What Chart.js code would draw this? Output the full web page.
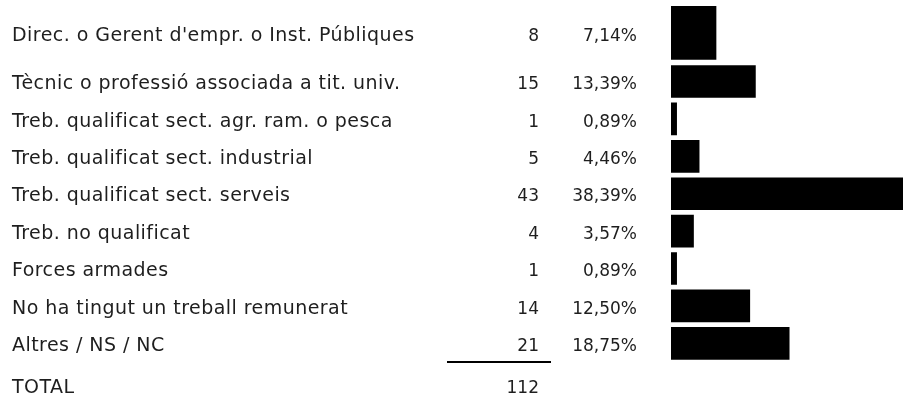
<!DOCTYPE html>
<html>
<head>
<meta charset="utf-8">
<script src="https://cdn.jsdelivr.net/npm/chart.js@4/dist/chart.umd.min.js"></script>
<style>
  html, body { margin: 0; padding: 0; background: #fff; overflow: hidden; }
  #wrap { width: 903px; height: 394px; overflow: hidden; }
  canvas { display: block; }
</style>
</head>
<body>
<div id="wrap"><canvas id="ocupacio" width="913" height="394"></canvas></div>
<script>
// categories, counts and shares of the table
const categories = [
    "Direc. o Gerent d'empr. o Inst. Públiques",
    'Tècnic o professió associada a tit. univ.',
    'Treb. qualificat sect. agr. ram. o pesca',
    'Treb. qualificat sect. industrial',
    'Treb. qualificat sect. serveis',
    'Treb. no qualificat',
    'Forces armades',
    'No ha tingut un treball remunerat',
    'Altres / NS / NC'
];
const counts = [8, 15, 1, 5, 43, 4, 1, 14, 21];
const percents = [7.14, 13.39, 0.89, 4.46, 38.39, 3.57, 0.89, 12.50, 18.75];
const totalLabel = 'TOTAL';
const total = 112;

const textColor = '#1e1e1e';
const labelFont = '19px "DejaVu Sans"';
const numberFont = '17px "DejaVu Sans"';

const fmtPct = v => v.toFixed(2).replace('.', ',') + '%';

// draws the label / count / percentage columns next to the bars
const tablePlugin = {
    id: 'tableText',
    afterDraw(chart) {
        const c = chart.ctx;
        const area = chart.chartArea;
        const yTop = chart.scales.yTop;
        const yRows = chart.scales.yRows;
        c.save();
        c.fillStyle = textColor;
        c.textBaseline = 'alphabetic';

        const label = (txt, y) => {
            c.font = labelFont;
            c.textAlign = 'left';
            c.letterSpacing = '0.45px';
            c.fillText(txt, 12, y);
            c.letterSpacing = '0px';
        };

        categories.forEach((cat, i) => {
            const y = i === 0 ? yTop.getPixelForValue(0) + 8 : yRows.getPixelForValue(i - 1) + 7.7;
            label(cat, y);
            c.font = numberFont;
            c.textAlign = 'right';
            c.fillText(String(counts[i]), 539, y);
            c.fillText(fmtPct(percents[i]), 637, y);
        });

        // rule above the total
        c.strokeStyle = '#000';
        c.lineWidth = 2;
        c.beginPath();
        c.moveTo(447, area.bottom);
        c.lineTo(551, area.bottom);
        c.stroke();

        const ty = area.bottom + 30.5;
        label(totalLabel, ty);
        c.font = numberFont;
        c.textAlign = 'right';
        c.fillText(String(total), 539, ty);
        c.restore();
    }
};

const chart = new Chart(document.getElementById('ocupacio'), {
    type: 'bar',
    data: {
        datasets: [{
            data: [counts[0]],
            yAxisID: 'yTop',
            xAxisID: 'x',
            backgroundColor: '#000',
            grouped: false,
            barThickness: 53
        }, {
            data: counts.slice(1),
            yAxisID: 'yRows',
            xAxisID: 'x',
            backgroundColor: '#000',
            grouped: false,
            barThickness: 32
        }]
    },
    options: {
        indexAxis: 'y',
        responsive: false,
        animation: false,
        events: [],
        layout: {
            padding: { left: 671, top: 3, right: 0, bottom: 32 }
        },
        plugins: {
            legend: { display: false },
            tooltip: { enabled: false }
        },
        scales: {
            x: {
                type: 'linear',
                min: 0,
                max: Math.max(...counts),
                display: false
            },
            // left boxes are laid out last-first, so the lower block comes first here
            yRows: {
                type: 'category',
                labels: categories.slice(1),
                position: 'left',
                stack: 'rows',
                stackWeight: 8,
                display: false
            },
            yTop: {
                type: 'category',
                labels: [categories[0]],
                position: 'left',
                stack: 'rows',
                stackWeight: 1.6,
                display: false
            }
        }
    },
    plugins: [tablePlugin]
});
</script>
</body>
</html>
